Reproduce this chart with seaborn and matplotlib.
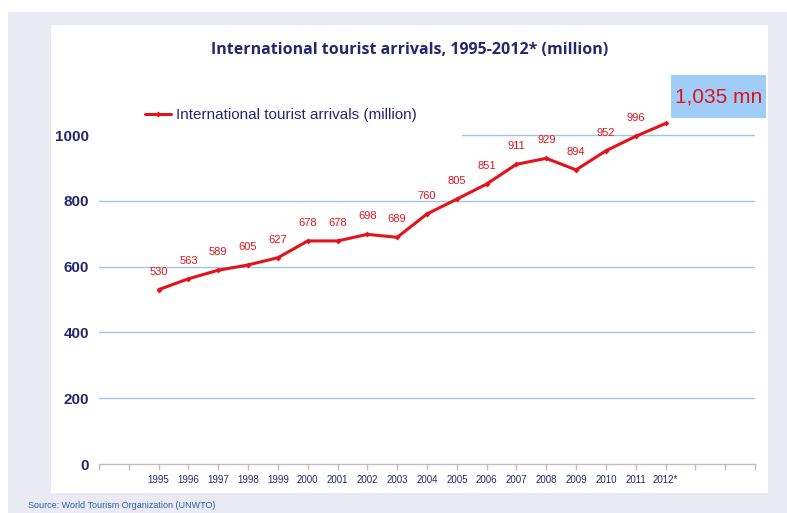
import matplotlib
matplotlib.use("Agg")
import matplotlib.pyplot as plt
import seaborn as sns
import pandas as pd
from matplotlib.patches import Rectangle

years = ["1995", "1996", "1997", "1998", "1999", "2000", "2001", "2002", "2003",
         "2004", "2005", "2006", "2007", "2008", "2009", "2010", "2011", "2012*"]
arrivals = [530, 563, 589, 605, 627, 678, 678, 698, 689,
            760, 805, 851, 911, 929, 894, 952, 996, 1035]
yticks = [0, 200, 400, 600, 800, 1000]
series_name = "International tourist arrivals (million)"
title = "International tourist arrivals, 1995-2012* (million)"
callout = "1,035 mn"
source = "Source: World Tourism Organization (UNWTO)"

sns.set_theme(style="white")
plt.rcParams["font.family"] = ["Liberation Sans", "DejaVu Sans"]
plt.rcParams["axes.grid"] = False

NAVY = "#24286E"
RED = "#E3121B"
GRID = "#9FC8E2"

W, H = 787, 513
fig = plt.figure(figsize=(W / 100, H / 100), dpi=100)
fig.patch.set_facecolor("white")

# background panels
fig.add_artist(Rectangle((8 / W, 0), 1 - 8 / W, (H - 12) / H, transform=fig.transFigure,
                         facecolor="#EAEAF4", edgecolor="none", zorder=-10))
fig.add_artist(Rectangle((51 / W, (H - 493) / H), (768 - 51) / W, (493 - 25) / H,
                         transform=fig.transFigure, facecolor="white", edgecolor="none", zorder=-9))

ax_l, ax_r = 99, 755
y0_px, ytop_px = 464, 464 - 6 * 65.8
ax = fig.add_axes([ax_l / W, (H - y0_px) / H, (ax_r - ax_l) / W, (y0_px - ytop_px) / H])
ax.set_facecolor("none")

df = pd.DataFrame({"pos": range(len(years)), "value": arrivals, "series": series_name})
sns.lineplot(data=df, x="pos", y="value", hue="series", palette=[RED], ax=ax,
             linewidth=2.2, marker="D", markersize=3, markeredgewidth=0, zorder=3)

for i, v in enumerate(arrivals[:-1]):
    ax.annotate(str(v), (i, v), xytext=(0, 13), textcoords="offset points",
                ha="center", va="center", fontsize=8, color=RED)

ax.set_xlim(-2, 20)
ax.set_ylim(0, 1200)
ax.set_xticks(range(-2, 21))
ax.set_xticklabels([""] * 2 + years + [""] * 3)
ax.set_yticks(yticks)
ax.set_yticklabels([str(t) for t in yticks])
ax.set_xlabel("")
ax.set_ylabel("")
ax.grid(False)

for t in [200, 400, 600, 800, 1000]:
    ax.axhline(t, color=GRID, linewidth=1.0, zorder=0.5)

# white cover behind legend over gridline
ax.add_patch(Rectangle((0, 0.805), (462 - ax_l) / (ax_r - ax_l), 0.06, transform=ax.transAxes,
                       facecolor="white", edgecolor="none", zorder=1))

for s in ["top", "right", "left"]:
    ax.spines[s].set_visible(False)
ax.spines["bottom"].set_color("#BFBFBF")
ax.spines["bottom"].set_linewidth(1.0)
ax.tick_params(axis="x", which="both", bottom=True, direction="out", length=4, width=1,
               color="#BFBFBF", labelsize=7, labelcolor=NAVY, pad=4)
ax.tick_params(axis="y", left=False, length=0, labelsize=11, labelcolor=NAVY, pad=7)
for lab in ax.get_yticklabels():
    lab.set_fontweight("bold")

leg = ax.legend(loc="center left",
                bbox_to_anchor=((145 - ax_l) / (ax_r - ax_l), (y0_px - 115) / (y0_px - ytop_px)),
                frameon=False, fontsize=11, handlelength=1.7, handletextpad=0.3,
                borderaxespad=0, borderpad=0)
for txt in leg.get_texts():
    txt.set_color(NAVY)

fig.text(410 / W, 1 - 50 / H, title, ha="center", va="center", fontsize=11.5,
         fontweight="bold", color=NAVY, family=["Open Sans", "DejaVu Sans"])

fig.add_artist(Rectangle((671 / W, 1 - 118 / H), (766 - 671) / W, (118 - 75) / H,
                         transform=fig.transFigure, facecolor="#A0CCF8", edgecolor="none", zorder=5))
fig.text(718.5 / W, 1 - 97 / H, callout, ha="center", va="center", fontsize=15, color=RED, zorder=6)

fig.text(28 / W, 1 - 505 / H, source, ha="left", va="center", fontsize=6.5, color="#2F5EA8")

fig.savefig("out.png", dpi=100, facecolor=fig.get_facecolor())
